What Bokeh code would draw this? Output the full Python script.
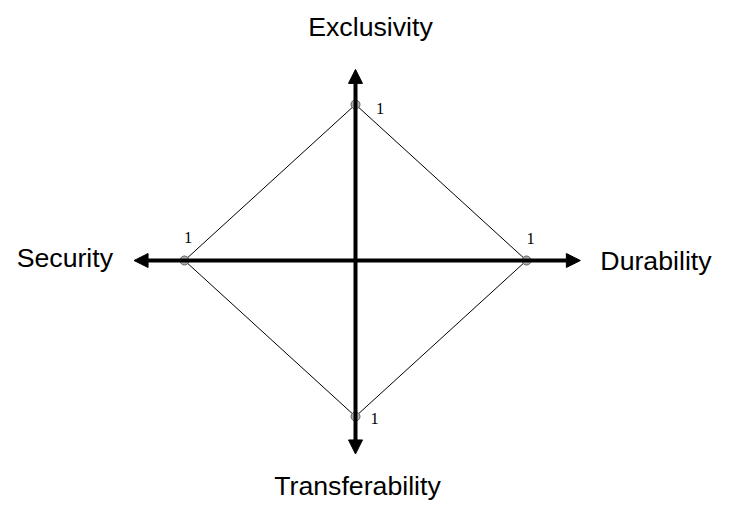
import numpy as np
from bokeh.plotting import figure
from bokeh.models import Arrow, NormalHead, ColumnDataSource, Range1d
from bokeh.core.properties import value
from bokeh.embed import file_html
from bokeh.resources import INLINE

# ---- data ----
axis_names = ["Exclusivity", "Durability", "Transferability", "Security"]
axis_angles_deg = [90, 0, 270, 180]
scores = [1, 1, 1, 1]
score_labels = ["1", "1", "1", "1"]

# ---- layout ----
W, H = 716, 502
cx_px, cy_px = 355.0, 260.0          # centre in figure pixels
sx, sy = 171.0, 156.0                # pixels per unit
axis_extent = [1.225, 1.315, 1.24, 1.295]
name_offsets = [(15, -42), (20, 0), (2, 32), (-21, -3)]
name_align = ["center", "left", "center", "right"]
score_offsets = [(24.5, 4), (4, -22), (19, 2), (3.5, -23)]

ang = np.deg2rad(axis_angles_deg)
ux = np.round(np.cos(ang), 12)
uy = np.round(np.sin(ang), 12)
vx = ux * np.array(scores)
vy = uy * np.array(scores)

p = figure(width=W, height=H, output_backend="svg", toolbar_location=None,
           x_axis_type=None, y_axis_type=None,
           x_range=Range1d(-cx_px / sx, (W - cx_px) / sx),
           y_range=Range1d(-(H - cy_px) / sy, cy_px / sy),
           min_border=0, min_border_left=0, min_border_right=0,
           min_border_top=0, min_border_bottom=0)
p.outline_line_color = None
p.grid.visible = False
p.background_fill_color = "white"
p.border_fill_color = "white"

# diamond
p.line(list(vx) + [vx[0]], list(vy) + [vy[0]], line_color="black", line_width=1)

# axes arrows
for i in range(len(axis_names)):
    p.add_layout(Arrow(end=NormalHead(size=14, fill_color="black", line_color="black", line_width=1),
                       x_start=0, y_start=0,
                       x_end=ux[i] * axis_extent[i], y_end=uy[i] * axis_extent[i],
                       line_color="black", line_width=4))

# points
p.scatter(vx, vy, size=9, fill_color="#b0b0b0", line_color="#606060", line_width=1)

# score labels
p.text(x=list(vx), y=list(vy), text=score_labels,
       x_offset=[o[0] for o in score_offsets], y_offset=[o[1] for o in score_offsets],
       text_font=value("Liberation Serif"), text_font_size="16.5px",
       text_align="center", text_baseline="alphabetic", text_color="black")

# axis names
src = ColumnDataSource(dict(
    x=list(ux * np.array(axis_extent)), y=list(uy * np.array(axis_extent)),
    t=axis_names,
    xo=[o[0] for o in name_offsets], yo=[o[1] for o in name_offsets],
    al=name_align))
p.text(x="x", y="y", text="t", x_offset="xo", y_offset="yo", text_align="al",
       source=src, text_font=value("Liberation Sans"), text_font_size="26.7px",
       text_baseline="alphabetic", text_color="black")

open("out.html", "w").write(file_html(p, INLINE))
